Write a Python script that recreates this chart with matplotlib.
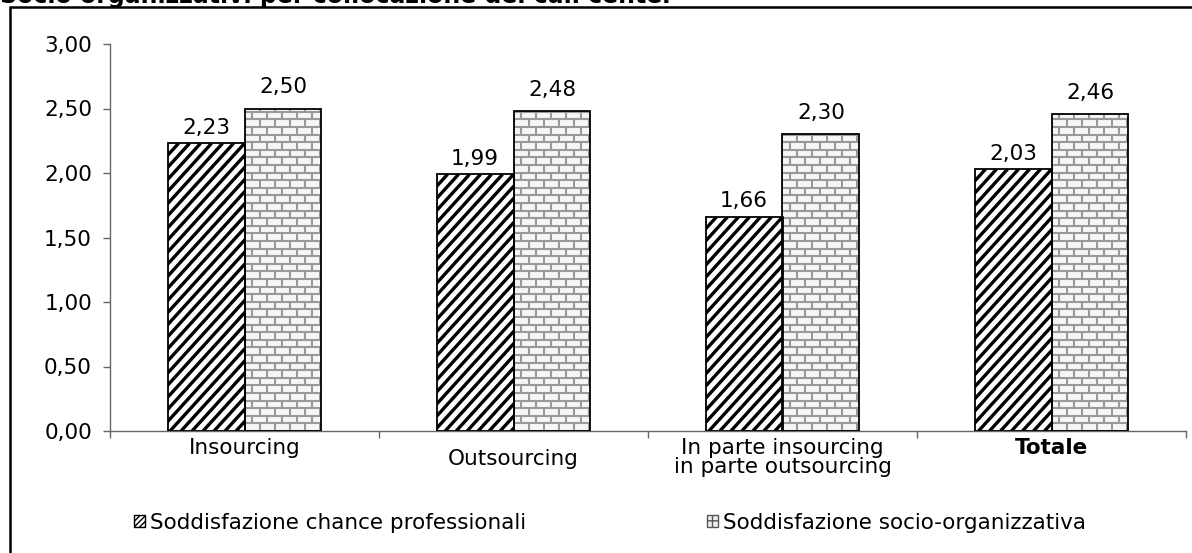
import matplotlib.pyplot as plt
import numpy as np
from matplotlib.patches import Patch, Rectangle
from matplotlib.collections import LineCollection
from matplotlib.transforms import IdentityTransform, ScaledTranslation

# Data
categories = ['Insourcing', 'Outsourcing', 'In parte insourcing\nin parte outsourcing', 'Totale']
chance = [2.23, 1.99, 1.66, 2.03]
socio = [2.50, 2.48, 2.30, 2.46]
series_names = ['Soddisfazione chance professionali', 'Soddisfazione socio-organizzativa']
title = 'Socio organizzativi per collocazione dei call center'

W, H = 1192, 553
FS = 15.5

plt.rcParams['font.family'] = 'DejaVu Sans'
fig = plt.figure(figsize=(W / 100, H / 100), dpi=100)

# outer frame (only its left and top edges fall inside the image)
fig.add_artist(Rectangle((9.5 / W, -0.1), 1.2, 1 - 7.5 / H + 0.1, transform=fig.transFigure,
                         fill=False, edgecolor='black', lw=1.8))
fig.text(0.0, 1 - 3.5 / H, title, fontsize=17, fontweight='bold', va='baseline', ha='left')

ax = fig.add_axes([110 / W, 1 - 431 / H, 1076 / W, (431 - 44) / H])
ax.set_xlim(-0.5, 3.5)
ax.set_ylim(0, 3)

x = np.arange(len(categories))
w = 0.286

fill1 = ax.bar(x - w / 2, chance, w, facecolor='white', edgecolor='none', zorder=2)
fill2 = ax.bar(x + w / 2, socio, w, facecolor='#f6f6f6', edgecolor='none', zorder=2)


def stripes(patch, period=11.0, slope=1.1):
    bb = patch.get_window_extent()
    h = bb.y1 - bb.y0
    dx = h / slope
    segs = []
    c = bb.x0 - dx - period
    while c < bb.x1 + period:
        segs.append([(c, bb.y0), (c + dx, bb.y1)])
        c += period
    lc = LineCollection(segs, colors='black', linewidths=2.4, transform=IdentityTransform(), zorder=2.5)
    ax.add_collection(lc)
    lc.set_clip_path(patch)


def bricks(patch, row=7.6, brick=15.0):
    bb = patch.get_window_extent()
    segs = []
    y = bb.y0
    i = 0
    while y < bb.y1 + row:
        segs.append([(bb.x0, y), (bb.x1, y)])
        off = 0 if i % 2 == 0 else brick / 2
        xx = bb.x0 - brick + off
        while xx < bb.x1 + brick:
            segs.append([(xx, y), (xx, y + row)])
            xx += brick
        y += row
        i += 1
    lc = LineCollection(segs, colors='#999999', linewidths=1.5, transform=IdentityTransform(), zorder=2.5)
    ax.add_collection(lc)
    lc.set_clip_path(patch)


for p in fill1:
    stripes(p)
for p in fill2:
    bricks(p)

out1 = ax.bar(x - w / 2, chance, w, fill=False, edgecolor='black', lw=1.3, zorder=3)
out2 = ax.bar(x + w / 2, socio, w, fill=False, edgecolor='black', lw=1.3, zorder=3)

fmt = lambda v: f'{v:.2f}'.replace('.', ',')
ax.bar_label(out1, labels=[fmt(v) for v in chance], padding=4, fontsize=FS)
ax.bar_label(out2, labels=[fmt(v) for v in socio], padding=8, fontsize=FS)

# axes styling
for s in ['top', 'right']:
    ax.spines[s].set_visible(False)
for s in ['left', 'bottom']:
    ax.spines[s].set_color('#666666')
    ax.spines[s].set_linewidth(1.0)

yt = np.arange(0, 3.01, 0.5)
ax.set_yticks(yt)
ax.set_yticklabels([fmt(v) for v in yt], fontsize=FS)
ax.tick_params(axis='y', direction='out', length=5, width=1, color='#666666', pad=8)

ax.set_xticks(np.arange(-0.5, 3.6, 1.0))
ax.set_xticklabels([])
ax.tick_params(axis='x', which='major', direction='out', length=5, width=1, color='#666666')
ax.set_xticks(x, minor=True)
ax.set_xticklabels(categories, minor=True, fontsize=FS, linespacing=0.95)
ax.tick_params(axis='x', which='minor', length=0, pad=5)
mlabels = ax.get_xticklabels(minor=True)
mlabels[3].set_fontweight('bold')
mlabels[1].set_transform(mlabels[1].get_transform() + ScaledTranslation(0, -11 / 100, fig.dpi_scale_trans))

# legend, one entry per series
h1 = Patch(facecolor='white', edgecolor='black', hatch='//////', lw=1.0)
h2 = Patch(facecolor='#eeeeee', edgecolor='#555555', hatch='++', lw=1.0)
common = dict(loc='center left', frameon=False, fontsize=FS, handlelength=0.5, handleheight=0.5,
              handletextpad=0.25, borderpad=0, borderaxespad=0)
fig.legend([h1], [series_names[0]], bbox_to_anchor=(134 / W, 1 - 523 / H), **common)
fig.legend([h2], [series_names[1]], bbox_to_anchor=(707 / W, 1 - 523 / H), **common)

fig.savefig('out.png', dpi=100)
